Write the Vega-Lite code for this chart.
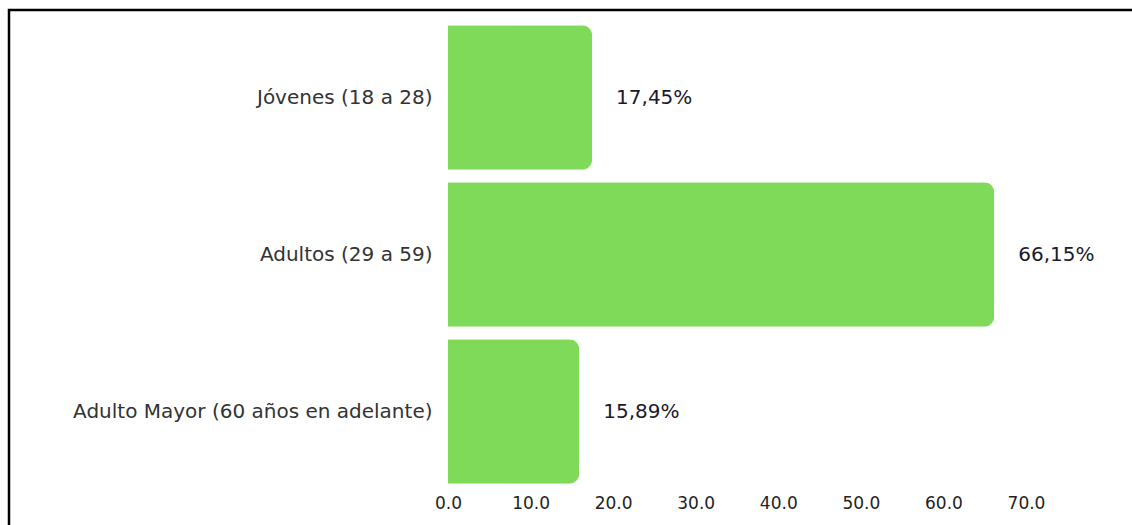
{
  "$schema": "https://vega.github.io/schema/vega-lite/v6.json",
  "autosize": {"type": "none"},
  "width": 1144,
  "height": 536,
  "padding": {"left": 9, "top": 10, "right": -21, "bottom": -21},
  "config": {
    "view": {"stroke": "#000000", "strokeWidth": 2.5},
    "font": "DejaVu Sans"
  },
  "data": {
    "values": [
      {"grupo": "Jóvenes (18 a 28)", "valor": 17.45, "etiqueta": "17,45%"},
      {"grupo": "Adultos (29 a 59)", "valor": 66.15, "etiqueta": "66,15%"},
      {"grupo": "Adulto Mayor (60 años en adelante)", "valor": 15.89, "etiqueta": "15,89%"}
    ]
  },
  "encoding": {
    "y": {
      "field": "grupo",
      "type": "nominal",
      "sort": null,
      "title": null,
      "scale": {"range": [9, 480], "paddingInner": 0.08, "paddingOuter": 0.04},
      "axis": {
        "orient": "left",
        "offset": -431,
        "ticks": false,
        "domain": false,
        "labelPadding": 8,
        "labelFontSize": 20,
        "labelColor": "#333333",
        "labelLimit": 600
      }
    }
  },
  "layer": [
    {
      "mark": {"type": "bar", "color": "#80DA5A", "cornerRadiusEnd": 10},
      "encoding": {
        "x": {
          "field": "valor",
          "type": "quantitative",
          "title": null,
          "scale": {"domain": [0, 70], "range": [439, 1017], "nice": false},
          "axis": {
            "orient": "bottom",
            "offset": -56,
            "values": [0, 10, 20, 30, 40, 50, 60, 70],
            "format": ".1f",
            "ticks": false,
            "domain": false,
            "grid": false,
            "labelPadding": 5,
            "labelFontSize": 17,
            "labelColor": "#222222",
            "labelFlush": false
          }
        }
      }
    },
    {
      "mark": {"type": "text", "align": "left", "baseline": "middle", "dx": 24, "fontSize": 20, "color": "#1a1a2a"},
      "encoding": {
        "x": {"field": "valor", "type": "quantitative"},
        "text": {"field": "etiqueta", "type": "nominal"}
      }
    }
  ]
}
